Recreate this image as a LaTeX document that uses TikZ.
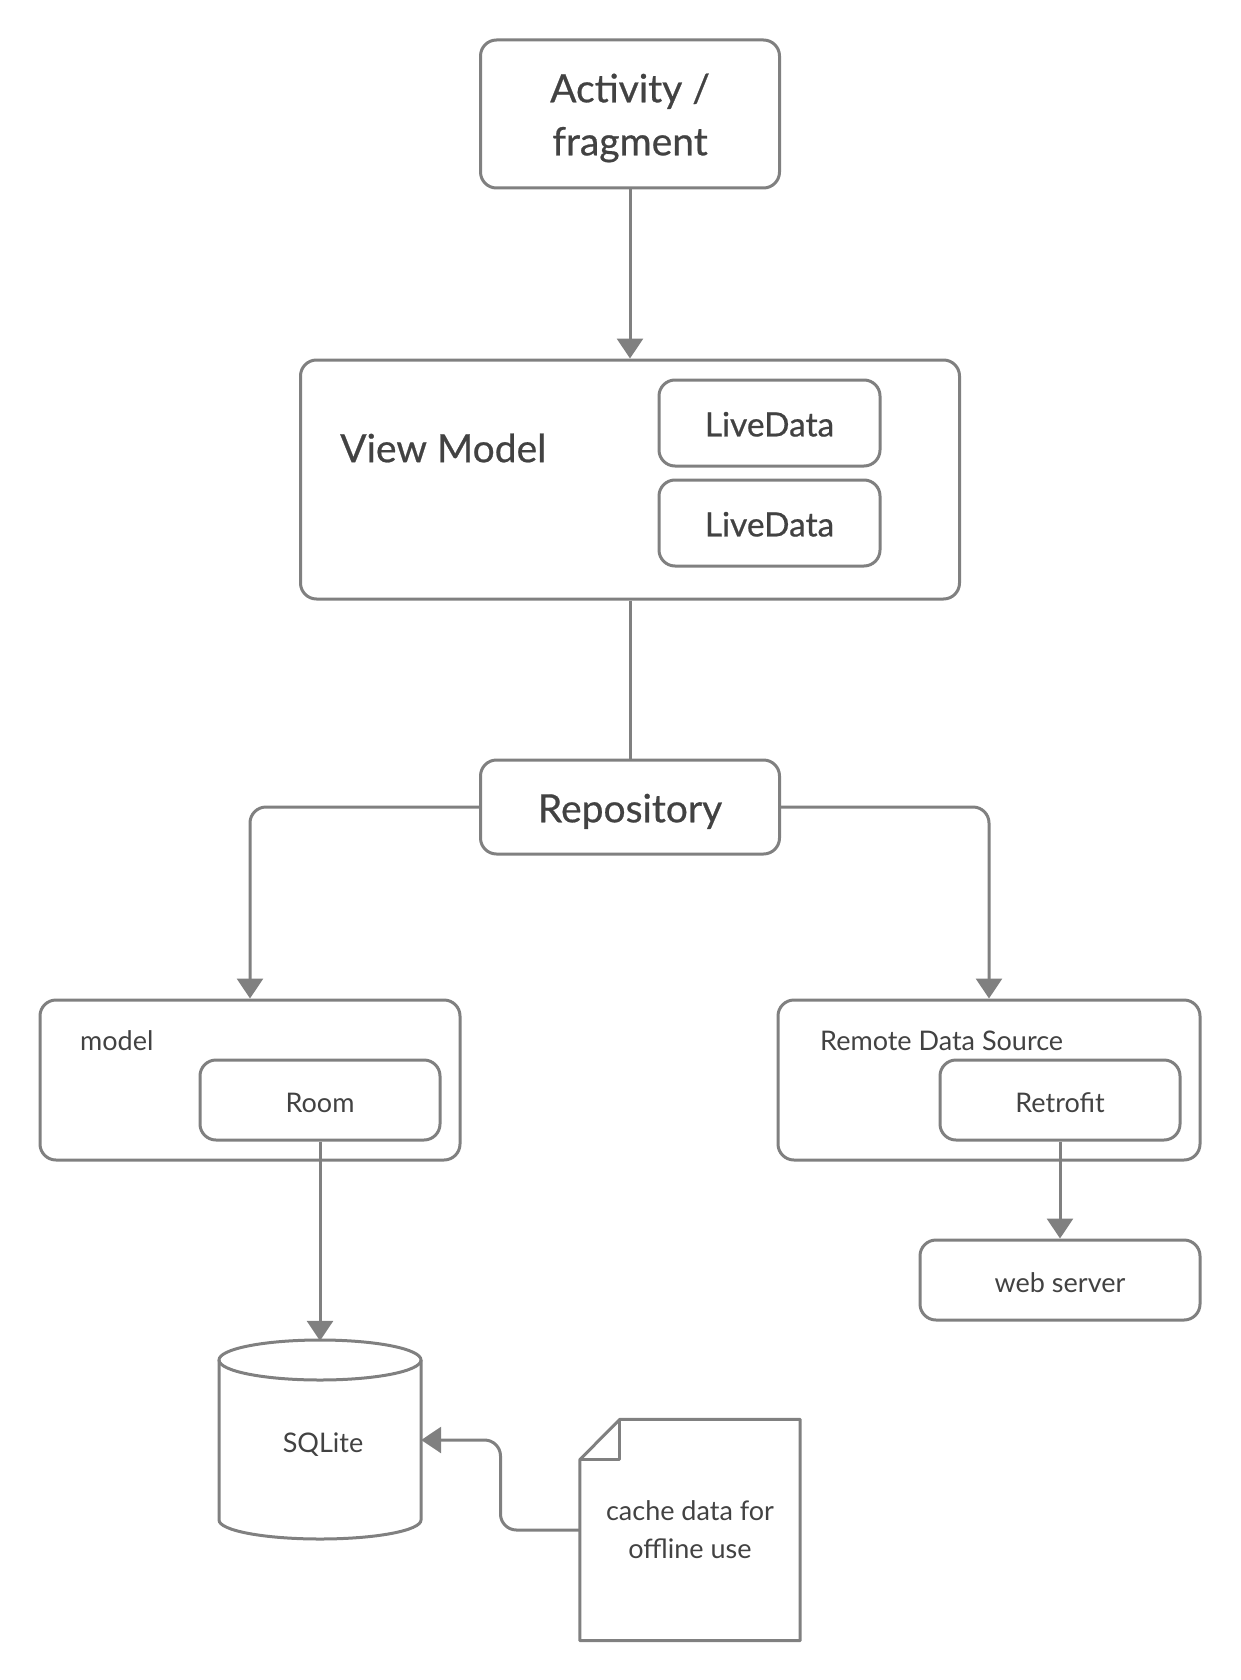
\documentclass[tikz,border=0pt]{standalone}
\usepackage{fontspec}
\setmainfont{Lato}
\newfontfamily\latomed[FakeBold=0.6]{Lato}
\usepackage{tikz}
\usetikzlibrary{positioning,calc,arrows.meta,shapes}
\definecolor{linegray}{RGB}{128,128,128}
\definecolor{txtgray}{RGB}{66,66,66}
\tikzstyle{blk}=[draw=linegray, line width=3pt, rounded corners=16pt, text=txtgray, align=center]
\tikzstyle{big}=[blk, font=\latomed\fontsize{39}{53}\selectfont, text height=30.6pt, text depth=0pt]
\tikzstyle{mid}=[blk, font=\latomed\fontsize{33.5}{38}\selectfont, minimum width=221pt, minimum height=86pt, text height=26.8pt, text depth=0pt]
\tikzstyle{sml}=[blk, font=\fontsize{27}{36}\selectfont, minimum width=240pt, minimum height=80pt, text height=25.6pt, text depth=0pt]
\tikzstyle{lbl}=[text=txtgray, inner sep=0pt]
\tikzstyle{arr}=[-{Triangle[width=26pt,length=20pt]}, color=linegray, line width=3pt]
\tikzstyle{lin}=[color=linegray, line width=3pt]

\begin{document}
\begin{tikzpicture}[x=1pt,y=1pt]
\useasboundingbox (0,0) rectangle (1240,-1680);

\node[blk, minimum width=299pt, minimum height=148pt] at (630,-114) (act) {};
\node[lbl, align=center, font=\latomed\fontsize{39}{53}\selectfont] at (630,-118) (acttext) {Activity /\\ fragment};
\node[blk, minimum width=659pt, minimum height=239pt, below of = act, node distance = 365.5pt] (vm) {};
\node[lbl, anchor=west, font=\latomed\fontsize{39}{44}\selectfont] at (340,-448) (vmlabel) {View Model};
\node[mid] at (769.5,-423) (ld1) {LiveData};
\node[mid, below of = ld1, node distance = 100pt] (ld2) {LiveData};
\node[big, minimum width=299pt, minimum height=94pt, below of = vm, node distance = 327.5pt] (repo) {Repository};

\draw[arr] (act) -- (vm);
\draw[lin] (vm) -- (repo);

% model side
\node[blk, minimum width=420pt, minimum height=160pt] at (250,-1080) (model) {};
\node[lbl, anchor=west, font=\fontsize{27}{32}\selectfont] at (80,-1041) (modellabel) {model};
\node[sml] at (320,-1100) (room) {Room};

% remote side
\node[blk, minimum width=422pt, minimum height=160pt] at (989,-1080) (rds) {};
\node[lbl, anchor=west, font=\fontsize{27}{32}\selectfont] at (820,-1041) (rdslabel) {Remote Data Source};
\node[sml] at (1060,-1100) (retro) {Retrofit};
\node[sml, minimum width=280pt, below of = retro, node distance = 180pt] (web) {web server};

\draw[arr, rounded corners=16pt] (repo.west) -| (model.north);
\draw[arr, rounded corners=16pt] (repo.east) -| (rds.north);
\draw[arr] (retro) -- (web);

% database
\node[minimum width=202pt, minimum height=198pt, text=txtgray, font=\fontsize{27}{32}\selectfont, text height=25.6pt, text depth=0pt] at (320,-1440) (db) {\hspace*{6pt}SQLite};
\draw[lin] (219,-1360) -- (219,-1520) arc[start angle=180, end angle=360, x radius=101, y radius=19] -- (421,-1360);
\draw[lin] (320,-1360) ellipse [x radius=101, y radius=20];
\draw[arr] (room) -- (room.south |- db.north);

% note
\node[minimum width=220pt, minimum height=221pt, text=txtgray, align=center, font=\fontsize{27}{38}\selectfont] at (690,-1530) (note) {cache data for\\ offline use};
\draw[lin, line join=round] (note.north west) ++(40,0) -- (note.north east) -- (note.south east) -- (note.south west) -- ++(0,181) -- cycle;
\draw[lin, line join=round] (note.north west) ++(40,0) -- ++(0,-40) -- ++(-40,0);
\draw[arr, rounded corners=16pt] (note.west) -| ($(db.east)!0.5!(note.west)$) |- (db.east);
\end{tikzpicture}
\end{document}
